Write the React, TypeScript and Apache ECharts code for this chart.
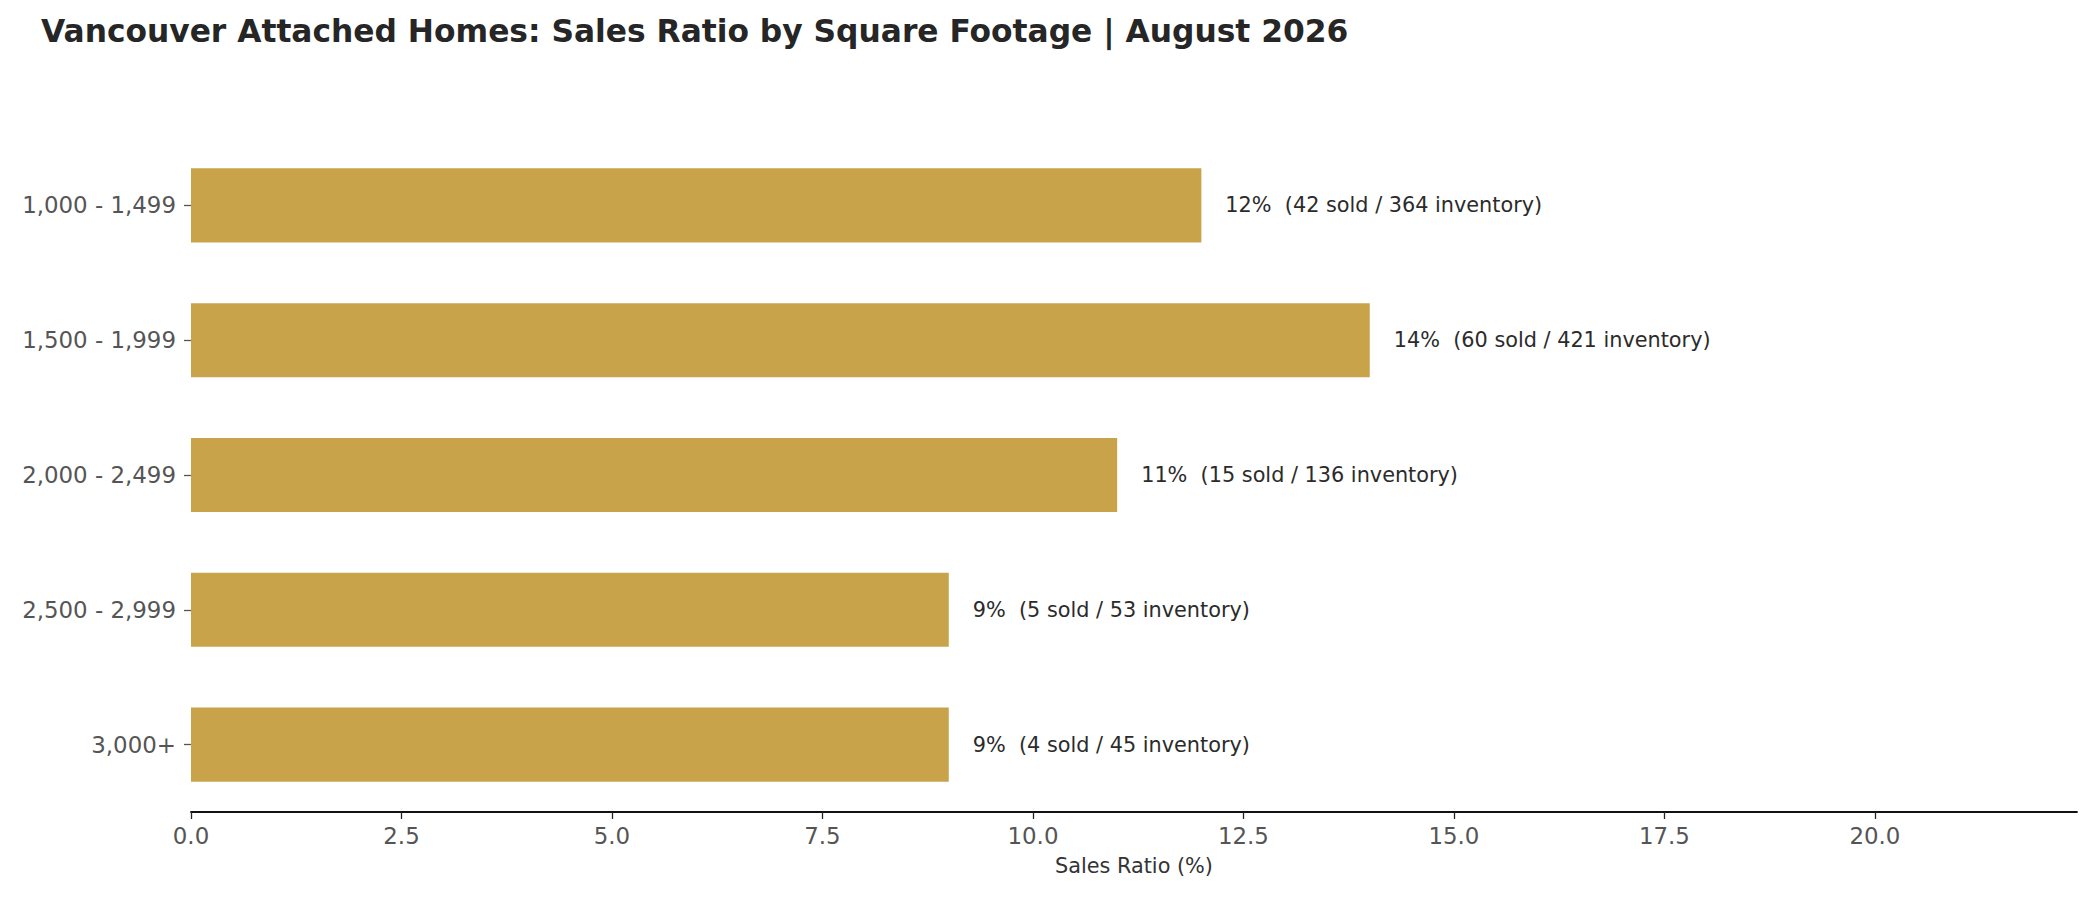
import React, { useEffect, useRef } from "react";
import * as echarts from "echarts";

const categories = ["1,000 - 1,499", "1,500 - 1,999", "2,000 - 2,499", "2,500 - 2,999", "3,000+"];
const ratios = [12, 14, 11, 9, 9];
const sold = [42, 60, 15, 5, 4];
const inventory = [364, 421, 136, 53, 45];
const xTicks = [0, 2.5, 5, 7.5, 10, 12.5, 15, 17.5, 20];

const FONT = "DejaVu Sans";

const App: React.FC = () => {
  const chartRef = useRef<HTMLDivElement>(null);

  useEffect(() => {
    if (!chartRef.current) return;
    const chart = echarts.init(chartRef.current, null, { renderer: "svg" });

    const option: echarts.EChartsOption = {
      animation: false,
      backgroundColor: "#ffffff",
      textStyle: { fontFamily: FONT },
      title: {
        text: "Vancouver Attached Homes: Sales Ratio by Square Footage | August 2026",
        left: 41,
        top: 15,
        padding: 0,
        textStyle: { fontFamily: FONT, fontSize: 31.3, fontWeight: "bold", color: "#262626" },
      },
      grid: { left: 191, right: 23, top: 138, bottom: 88 },
      xAxis: {
        type: "value",
        min: 0,
        max: 22.4,
        name: "Sales Ratio (%)",
        nameLocation: "middle",
        nameGap: 43,
        nameTextStyle: { fontFamily: FONT, fontSize: 20.8, color: "#333333" },
        splitLine: { show: false },
        axisLine: { show: true, lineStyle: { color: "#111111", width: 1.8 } },
        axisTick: { show: true, length: 7, lineStyle: { color: "#262626", width: 1.3 }, customValues: xTicks },
        axisLabel: {
          customValues: xTicks,
          margin: 12,
          fontFamily: FONT,
          fontSize: 22.9,
          color: "#555555",
          formatter: (v: number) => v.toFixed(1),
        },
      },
      yAxis: {
        type: "category",
        inverse: true,
        data: categories,
        axisLine: { show: false },
        axisTick: { show: true, length: 7, alignWithLabel: true, lineStyle: { color: "#555555", width: 1.3 } },
        axisLabel: { margin: 15, fontFamily: FONT, fontSize: 22.9, color: "#555555" },
        splitLine: { show: false },
      },
      series: [
        {
          type: "bar",
          data: ratios,
          barWidth: "55%",
          itemStyle: { color: "#C8A34A" },
          label: {
            show: true,
            position: "right",
            distance: 24,
            fontFamily: FONT,
            fontSize: 20.8,
            color: "#2b2b2b",
            formatter: (p: any) =>
              `${ratios[p.dataIndex]}%  (${sold[p.dataIndex]} sold / ${inventory[p.dataIndex]} inventory)`,
          },
        },
      ],
    };

    chart.setOption(option);
    return () => chart.dispose();
  }, []);

  return (
    <div
      ref={chartRef}
      style={{ position: "absolute", left: 0, top: 0, width: "2100px", height: "900px" }}
    />
  );
};

export default App;
